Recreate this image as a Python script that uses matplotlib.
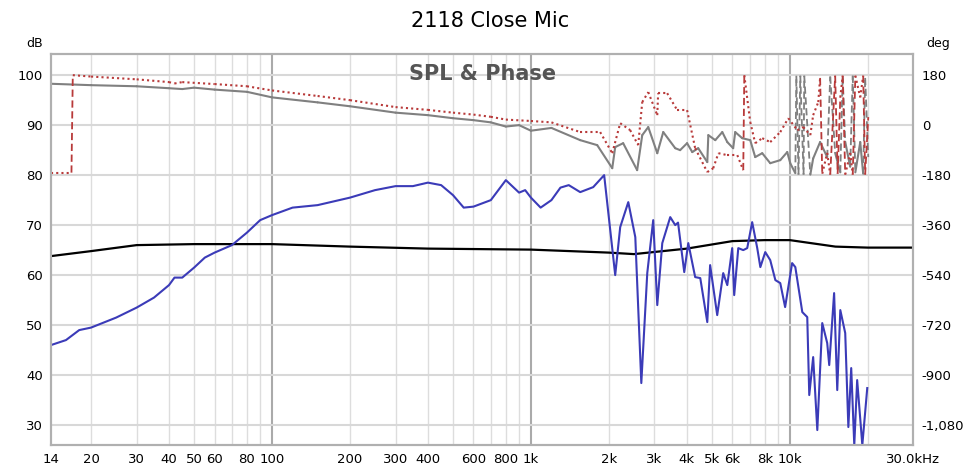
import numpy as np
import matplotlib
matplotlib.use("Agg")
import matplotlib.pyplot as plt

# SPL (dB)
spl_f = [14, 16, 18, 20, 25, 30, 35, 40, 42, 45, 50, 55, 60, 70, 80, 90, 100, 120, 150, 200, 250, 300, 350, 400, 450,
         500, 550, 600, 700, 800, 900, 950, 1000, 1090, 1200, 1300, 1400, 1550, 1740, 1918, 2116, 2212, 2377, 2530,
         2669, 2814, 2967, 3076, 3216, 3452, 3609, 3700, 3910, 4053, 4309, 4509, 4799, 4922, 5242, 5530, 5734,
         5990, 6097, 6322, 6608, 6846, 7154, 7484, 7693, 8036, 8400, 8792, 9184, 9590, 10206, 10500, 11172, 11676,
         11886, 12306, 12768, 13342, 13944, 14196, 14826, 15246, 15666, 16366, 16828, 17262, 17738, 18200, 19054,
         19908]
spl_db = [46, 47, 49, 49.5, 51.5, 53.5, 55.5, 58, 59.5, 59.5, 61.5, 63.5, 64.5, 66, 68.5, 71, 72, 73.5, 74, 75.5, 77,
          77.8, 77.8, 78.5, 78, 76, 73.5, 73.7, 75, 79, 76.5, 77, 75.5, 73.5, 75, 77.5, 78, 76.6, 77.6, 80, 60,
          69.6, 74.6, 67.6, 38.4, 60.4, 71, 54, 66.4, 71.6, 70, 70.5, 60.6, 66.4, 59.6, 59.4, 50.6, 62, 52, 60.4,
          58, 65.4, 56, 65.4, 65, 65.4, 70.6, 65.4, 61.6, 64.6, 63, 59, 58.4, 53.6, 62.4, 61.6, 52.6, 51.6,
          36, 43.6, 29, 50.4, 46.4, 42, 56.4, 37, 53, 48.4, 29.6, 41.4, 26, 39, 26, 37.4]

# smoothed reference (dB)
ref_f = [14, 20, 30, 50, 100, 200, 400, 1000, 2000, 2500, 4000, 6000, 8000, 10000, 15000, 20000, 30000]
ref_db = [63.8, 64.8, 66, 66.2, 66.2, 65.7, 65.3, 65.1, 64.5, 64.2, 65.3, 66.8, 67, 67, 65.7, 65.5, 65.5]

# phase (deg), wrapped
ph_f = [14, 20, 30, 40, 45, 50, 60, 80, 100, 150, 200, 300, 400, 500, 600, 700, 800, 900, 1000, 1200, 1550, 1803,
        2061, 2116, 2271, 2572, 2691, 2839, 3076, 3244, 3609, 3769, 4010, 4199, 4427, 4799, 4844, 5152, 5484,
        5734, 6041, 6153, 6548, 7032, 7350, 7823, 8400, 9184, 9772, 10035, 10500, 10595, 10800, 10976, 11300,
        11368, 11998, 12306, 13090, 13944, 14322, 14966, 15666, 16000, 16366, 17108, 17500, 17906, 18704, 19200,
        19544, 20090]
ph_deg = [149, 144, 140, 133, 130, 135, 128, 120, 100, 82, 68, 45, 36, 25, 18, 10, -5, 0, -20, -10, -54, -72,
          -155, -79, -65, -162, -36, -7, -101, -25, -83, -90, -65, -97, -83, -133, -36, -54, -25,
          -61, -83, -25, -47, -54, -115, -101, -137, -126, -97, -137, -173, 178, -178, 178, -178,
          178, -178, -120, -61, -115, 175, -100, -170, 175, -60, -150, 178, -170, -61, -175,
          170, -115]

# minimum phase (deg), wrapped
mp_f = [14, 16.8, 17, 20, 30, 40, 42, 45, 60, 80, 100, 150, 200, 300, 400, 500, 600, 700, 800, 1000, 1200, 1550,
        1851, 2061, 2212, 2417, 2596, 2691, 2839, 3076, 3100, 3359, 3673, 4010, 4309, 4799, 5060, 5298, 5734,
        6268, 6608, 6670, 7032, 7350, 7823, 8400, 9184, 9866, 10693, 11270, 11998, 12306, 12880, 13090, 13342,
        13944, 14322, 14966, 15300, 15666, 16000, 16366, 17108, 17500, 17906, 18704, 19200, 19544, 20090]
mp_deg = [-171, -171, 180, 175, 165, 155, 150, 155, 148, 140, 125, 105, 90, 65, 55, 45, 38, 30, 20, 15, 10, -25,
          -25, -101, 7, -18, -72, 83, 119, 36, 115, 115, 54, 54, -83, -169, -155, -101, -108,
          -108, -162, 180, 11, -65, -47, -61, -25, 25, -18, -7, -36, 36, 83, 170, -175,
          -100, -178, 178, -175, 100, 178, -178, -100, -178, 178, 100, 178, -178, 29]

x_ticks = [14, 20, 30, 40, 50, 60, 80, 100, 200, 300, 400, 600, 800, 1000, 2000, 3000, 4000, 5000, 6000, 8000,
           10000, 30000]
x_labels = ["14", "20", "30", "40", "50", "60", "80", "100", "200", "300", "400", "600", "800", "1k", "2k", "3k",
            "4k", "5k", "6k", "8k", "10k", "30.0kHz"]


def phase_line(ax, f, d, color, solid_ls):
    # solid/dotted between neighbours, dashed vertical where the phase wraps
    for i in range(len(f) - 1):
        wrap = abs(d[i + 1] - d[i]) > 180
        ax.plot(f[i:i + 2], d[i:i + 2], color=color, lw=1.5 if not wrap else 1.3,
                ls=(0, (4, 2)) if wrap else solid_ls, solid_capstyle="round")


fig = plt.figure(figsize=(9.8, 4.67), dpi=100)
ax = fig.add_axes([0.052, 0.047, 0.880, 0.837])
ax2 = ax.twinx()

ax.set_xscale("log")
ax.set_xlim(14, 30000)
ax.set_ylim(26, 104.2)
ax2.set_ylim(-1152, 255.6)

grid_minor = []
for dec in [10, 100, 1000, 10000]:
    for m in range(1, 10):
        v = dec * m
        if 14 < v < 30000:
            grid_minor.append(v)
for v in grid_minor:
    ax.axvline(v, color="#aaaaaa" if v in (100, 1000, 10000) else "#dddddd",
               lw=1.5 if v in (100, 1000, 10000) else 1.0, zorder=0)
for y in range(30, 101, 10):
    ax.axhline(y, color="#d8d8d8", lw=1.5, zorder=0)

ax.plot(ref_f, ref_db, color="black", lw=1.6, zorder=3)
ax.plot(spl_f, spl_db, color="#3b3bb8", lw=1.5, zorder=4)
phase_line(ax2, ph_f, ph_deg, "#808080", "-")
phase_line(ax2, mp_f, mp_deg, "#b83a3a", (0, (1, 1.5)))

ax.set_xticks(x_ticks)
ax.set_xticklabels(x_labels)
ax.xaxis.set_minor_locator(matplotlib.ticker.NullLocator())
ax.set_yticks(range(30, 101, 10))
ax2.set_yticks(range(-1080, 181, 180))
ax2.set_yticklabels(["{:,}".format(v) for v in range(-1080, 181, 180)])
for a in (ax, ax2):
    a.tick_params(length=0, labelsize=9.5, pad=6)
    for s in a.spines.values():
        s.set_color("#b0b0b0")
        s.set_linewidth(1.5)

fig.text(0.5, 0.955, "2118 Close Mic", ha="center", va="center", fontsize=15)
ax.text(0.5, 0.95, "SPL & Phase", transform=ax.transAxes, ha="center", va="center",
        fontsize=15, fontweight="bold", color="#555555")
fig.text(0.035, 0.9, "dB", fontsize=9, ha="center")
fig.text(0.957, 0.9, "deg", fontsize=9, ha="center")

fig.savefig("out.png", dpi=100)
